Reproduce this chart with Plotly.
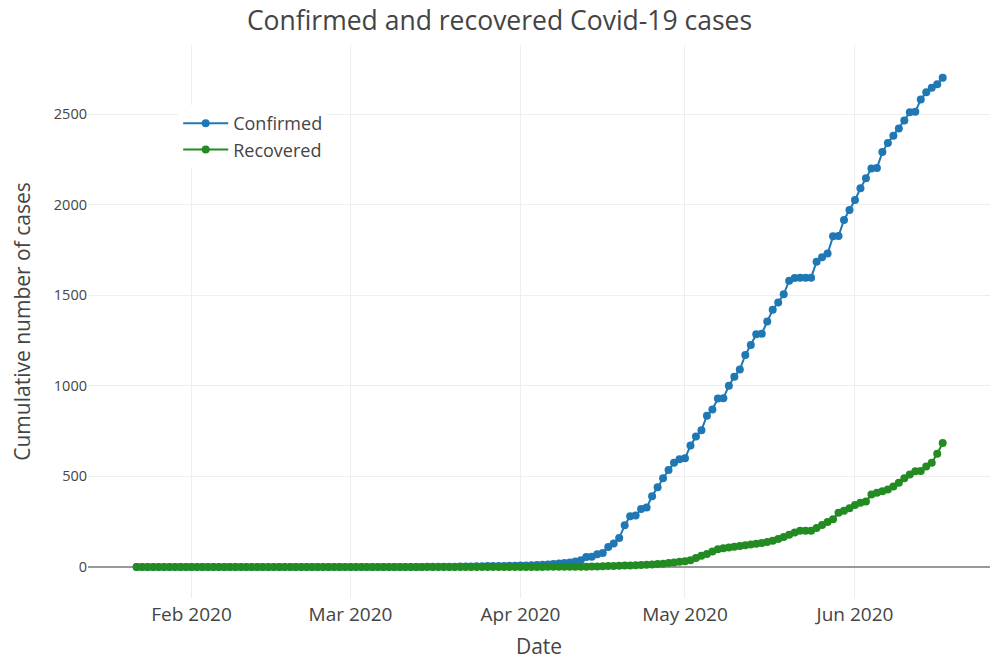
import pandas as pd
import plotly.graph_objects as go

start_date = "2020-01-22"
end_date = "2020-06-17"

# Confirmed cumulative cases
confirmed_jan_mar = [0] * 53 + [1, 1, 1, 2, 2, 2, 3, 3, 3, 4, 4, 5, 5, 6, 6, 7, 7]
confirmed_apr = [8, 9, 10, 11, 12, 14, 16, 19, 22, 25, 30, 38, 55, 57, 70, 78, 110, 130,
                 160, 230, 280, 285, 320, 328, 390, 440, 490, 535, 575, 595]
confirmed_may = [600, 670, 720, 755, 835, 870, 930, 932, 1000, 1050, 1090, 1170, 1225,
                 1285, 1288, 1355, 1420, 1460, 1505, 1580, 1595, 1597, 1597, 1597, 1685,
                 1710, 1730, 1825, 1827, 1915, 1970]
confirmed_jun = [2025, 2090, 2145, 2200, 2202, 2290, 2340, 2380, 2420, 2465, 2510, 2512,
                 2580, 2620, 2645, 2665, 2700]

# Recovered cumulative cases
recovered_jan_mar = [0] * 70
recovered_apr = [0, 0, 0, 0, 0, 1, 1, 1, 1, 1, 2, 2, 2, 3, 3, 4, 5, 6, 7, 8, 9, 10, 11,
                 12, 14, 16, 18, 22, 25, 29]
recovered_may = [32, 38, 50, 62, 72, 85, 98, 104, 108, 112, 116, 120, 124, 128, 132, 138,
                 145, 155, 165, 178, 190, 200, 200, 200, 215, 232, 248, 264, 300, 310, 325]
recovered_jun = [342, 355, 362, 400, 410, 418, 428, 445, 465, 490, 510, 528, 530, 555, 575,
                 625, 684]

x_range = ["2020-01-13 03:00", "2020-06-25 15:00"]
y_range = [-171, 2881]

dates = pd.date_range(start_date, end_date, freq="D")
confirmed = confirmed_jan_mar + confirmed_apr + confirmed_may + confirmed_jun
recovered = recovered_jan_mar + recovered_apr + recovered_may + recovered_jun

fig = go.Figure()
fig.add_trace(go.Scatter(x=dates, y=confirmed, mode="lines+markers", name="Confirmed",
                         line=dict(color="#1f77b4", width=2), marker=dict(size=8)))
fig.add_trace(go.Scatter(x=dates, y=recovered, mode="lines+markers", name="Recovered",
                         line=dict(color="#228b22", width=2), marker=dict(size=8)))

fig.update_layout(
    template="plotly_white",
    width=999, height=660,
    margin=dict(l=88, r=9, t=45, b=62),
    font=dict(family="Open Sans", color="#444", size=16),
    title=dict(text="Confirmed and recovered Covid-19 cases", x=0.5, xanchor="center",
               y=0.968, yanchor="middle", font=dict(size=26.5, color="#444")),
    legend=dict(x=0.1, y=0.8915, xanchor="left", yanchor="top", bgcolor="white",
                itemwidth=45, font=dict(size=18)),
    xaxis=dict(title=dict(text="Date", font=dict(size=21), standoff=20),
               tickfont=dict(size=19), gridcolor="#eeeeee", showline=False,
               zeroline=False, automargin=False, range=x_range, ticklabelstandoff=3),
    yaxis=dict(title=dict(text="Cumulative number of cases", font=dict(size=21), standoff=17),
               tickfont=dict(size=14.5), gridcolor="#eeeeee", zeroline=True,
               zerolinecolor="#999999", zerolinewidth=2, dtick=500, automargin=False,
               range=y_range),
)

fig.write_html("out.html", config={"displayModeBar": False},
               post_script="document.body.style.margin='0';")
